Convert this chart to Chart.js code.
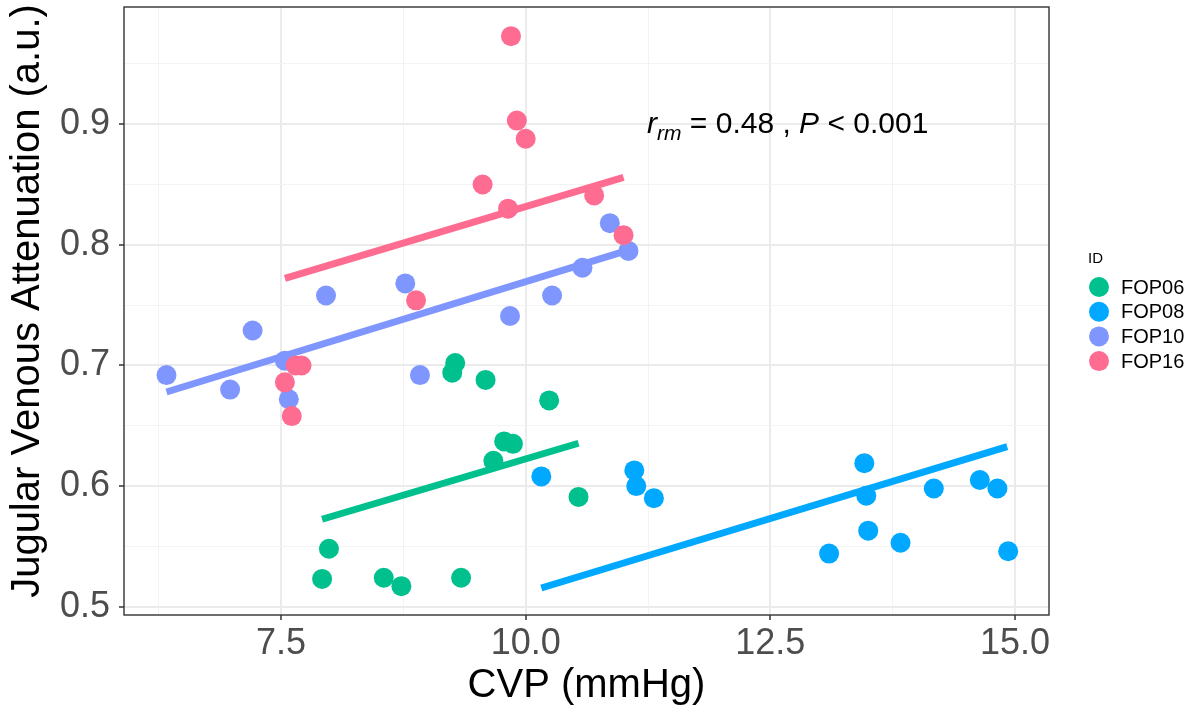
<!DOCTYPE html>
<html>
<head>
<meta charset="utf-8">
<script src="https://cdn.jsdelivr.net/npm/chart.js@4.4.1/dist/chart.umd.min.js"></script>
<style>
  html, body { margin: 0; padding: 0; background: #fff; }
  #wrap { width: 1199px; height: 713px; position: relative; }
</style>
</head>
<body>
<div id="wrap"><canvas id="jvaChart"></canvas></div>
<script>
// Subjects and their colours
const ids = ['FOP06', 'FOP08', 'FOP10', 'FOP16'];
const idColors = ['#00C08D', '#00A9FF', '#7F96FF', '#FF6C91'];

// CVP (mmHg) vs jugular venous attenuation (a.u.), one pair of arrays per subject
const cvpFOP06 = [7.92, 7.99, 8.55, 8.73, 9.34, 9.25, 9.28, 9.59, 9.67, 9.78, 9.87, 10.24, 10.54];
const jvaFOP06 = [0.523, 0.548, 0.524, 0.517, 0.524, 0.694, 0.702, 0.688, 0.621, 0.637, 0.635, 0.671, 0.591];

const cvpFOP08 = [10.16, 11.11, 11.13, 11.31, 13.10, 13.46, 13.48, 13.50, 13.83, 14.17, 14.64, 14.82, 14.93];
const jvaFOP08 = [0.608, 0.613, 0.600, 0.590, 0.544, 0.619, 0.592, 0.563, 0.553, 0.598, 0.605, 0.598, 0.546];

const cvpFOP10 = [6.33, 6.98, 7.21, 7.54, 7.58, 7.96, 8.77, 8.92, 9.84, 10.27, 10.58, 10.86, 11.05];
const jvaFOP10 = [0.692, 0.680, 0.729, 0.704, 0.672, 0.758, 0.768, 0.692, 0.741, 0.758, 0.781, 0.818, 0.795];

const cvpFOP16 = [7.54, 7.61, 7.65, 7.71, 8.88, 9.56, 9.82, 9.85, 9.91, 10.00, 10.70, 11.00];
const jvaFOP16 = [0.686, 0.658, 0.700, 0.700, 0.754, 0.850, 0.830, 0.973, 0.903, 0.888, 0.841, 0.808];

// repeated-measures fit lines (start / end of each subject's range)
const fitCvpFOP06 = [7.92, 10.54];
const fitJvaFOP06 = [0.5725, 0.6355];
const fitCvpFOP08 = [10.16, 14.92];
const fitJvaFOP08 = [0.5155, 0.6327];
const fitCvpFOP10 = [6.33, 11.05];
const fitJvaFOP10 = [0.678, 0.7956];
const fitCvpFOP16 = [7.54, 11.00];
const fitJvaFOP16 = [0.7722, 0.856];

// labelled ticks
const xTickLabels = [7.5, 10.0, 12.5, 15.0];
const yTickLabels = [0.5, 0.6, 0.7, 0.8, 0.9];

// correlation stats
const rrmValue = '0.48';
const pValue = '0.001';

const FONT = '"Liberation Sans", Arial, sans-serif';
Chart.defaults.font.family = FONT;

const xs = [cvpFOP06, cvpFOP08, cvpFOP10, cvpFOP16];
const ys = [jvaFOP06, jvaFOP08, jvaFOP10, jvaFOP16];
const fitXs = [fitCvpFOP06, fitCvpFOP08, fitCvpFOP10, fitCvpFOP16];
const fitYs = [fitJvaFOP06, fitJvaFOP08, fitJvaFOP10, fitJvaFOP16];

const toPoints = (xv, yv) => xv.map((x, i) => ({ x: x, y: yv[i] }));

const datasets = [];
ids.forEach((id, i) => {
  datasets.push({
    label: id + ' fit',
    data: toPoints(fitXs[i], fitYs[i]),
    showLine: true,
    borderColor: idColors[i],
    borderWidth: 7,
    pointRadius: 0,
    order: 10
  });
});
ids.forEach((id, i) => {
  datasets.push({
    label: id,
    data: toPoints(xs[i], ys[i]),
    backgroundColor: idColors[i],
    borderWidth: 0,
    pointRadius: 10,
    order: 4 - i
  });
});

const isLabelled = (v, list) => list.some(t => Math.abs(t - v) < 1e-6);

// panel border, y title, stats text and legend
const panelExtras = {
  id: 'panelExtras',
  afterDraw(chart) {
    const { ctx, chartArea: a, scales } = chart;
    ctx.save();
    ctx.strokeStyle = '#333333';
    ctx.lineWidth = 1.4;
    ctx.strokeRect(a.left, a.top, a.right - a.left, a.bottom - a.top);

    // y axis title
    ctx.save();
    ctx.translate(28, 301);
    ctx.rotate(-Math.PI / 2);
    ctx.textAlign = 'center';
    ctx.textBaseline = 'middle';
    ctx.fillStyle = '#000000';
    ctx.font = '40px ' + FONT;
    ctx.fillText('Jugular Venous Attenuation (a.u.)', 0, 0);
    ctx.restore();

    // r_rm = 0.48 , P < 0.001
    let x = scales.x.getPixelForValue(11.24);
    const y = scales.y.getPixelForValue(0.8925);
    ctx.fillStyle = '#000000';
    ctx.textBaseline = 'alphabetic';
    ctx.textAlign = 'left';
    const seg = (txt, font, dy) => {
      ctx.font = font;
      ctx.fillText(txt, x, y + dy);
      x += ctx.measureText(txt).width;
    };
    seg('r', 'italic 30px ' + FONT, 0);
    seg('rm', 'italic 21px ' + FONT, 7);
    seg(' = ' + rrmValue + ' , ', '30px ' + FONT, 0);
    seg('P', 'italic 30px ' + FONT, 0);
    seg(' < ' + pValue, '30px ' + FONT, 0);

    // legend
    ctx.font = '15px ' + FONT;
    ctx.fillText('ID', 1088, 263);
    ctx.font = '20px ' + FONT;
    ctx.textBaseline = 'middle';
    ids.forEach((id, i) => {
      const cy = 287 + i * 24.7;
      ctx.fillStyle = idColors[i];
      ctx.beginPath();
      ctx.arc(1099, cy, 10, 0, Math.PI * 2);
      ctx.fill();
      ctx.fillStyle = '#000000';
      ctx.fillText(id, 1121, cy + 1);
    });
    ctx.restore();
  }
};

const gridFor = (labels, minorColor) => ({
  color: c => (c.tick && isLabelled(c.tick.value, labels)) ? '#EBEBEB' : minorColor,
  lineWidth: c => (c.tick && isLabelled(c.tick.value, labels)) ? 2 : 1,
  tickColor: c => (c.tick && isLabelled(c.tick.value, labels)) ? '#333333' : 'rgba(0,0,0,0)',
  tickWidth: 1.5,
  tickLength: 5
});

// keep the panel edges fixed regardless of label overhang
const noPad = s => {
  s.paddingTop = 0; s.paddingBottom = 0; s.paddingLeft = 0; s.paddingRight = 0;
};

new Chart(document.getElementById('jvaChart'), {
  type: 'scatter',
  data: { datasets: datasets },
  options: {
    responsive: true,
    maintainAspectRatio: false,
    animation: false,
    layout: { autoPadding: false, padding: { left: 0, top: 7, right: 150, bottom: 0 } },
    plugins: { legend: { display: false }, tooltip: { enabled: false } },
    scales: {
      x: {
        type: 'linear',
        min: 5.896,
        max: 15.347,
        grid: gridFor(xTickLabels, '#F3F3F3'),
        border: { display: false },
        ticks: {
          stepSize: 1.25,
          includeBounds: false,
          autoSkip: false,
          maxRotation: 0,
          padding: 2,
          color: '#4D4D4D',
          font: { size: 36 },
          callback: v => isLabelled(v, xTickLabels) ? v.toFixed(1) : ''
        },
        title: {
          display: true,
          text: 'CVP (mmHg)',
          color: '#000000',
          font: { size: 40 },
          padding: { top: 0, bottom: 3 }
        },
        afterFit: s => { s.height = 98; noPad(s); }
      },
      y: {
        type: 'linear',
        min: 0.4931,
        max: 0.9972,
        grid: gridFor(yTickLabels, '#F3F3F3'),
        border: { display: false },
        ticks: {
          stepSize: 0.05,
          includeBounds: false,
          autoSkip: false,
          padding: 9,
          color: '#4D4D4D',
          font: { size: 36 },
          callback: v => isLabelled(v, yTickLabels) ? v.toFixed(1) : ''
        },
        afterFit: s => { s.width = 124; noPad(s); }
      }
    }
  },
  plugins: [panelExtras]
});
</script>
</body>
</html>
